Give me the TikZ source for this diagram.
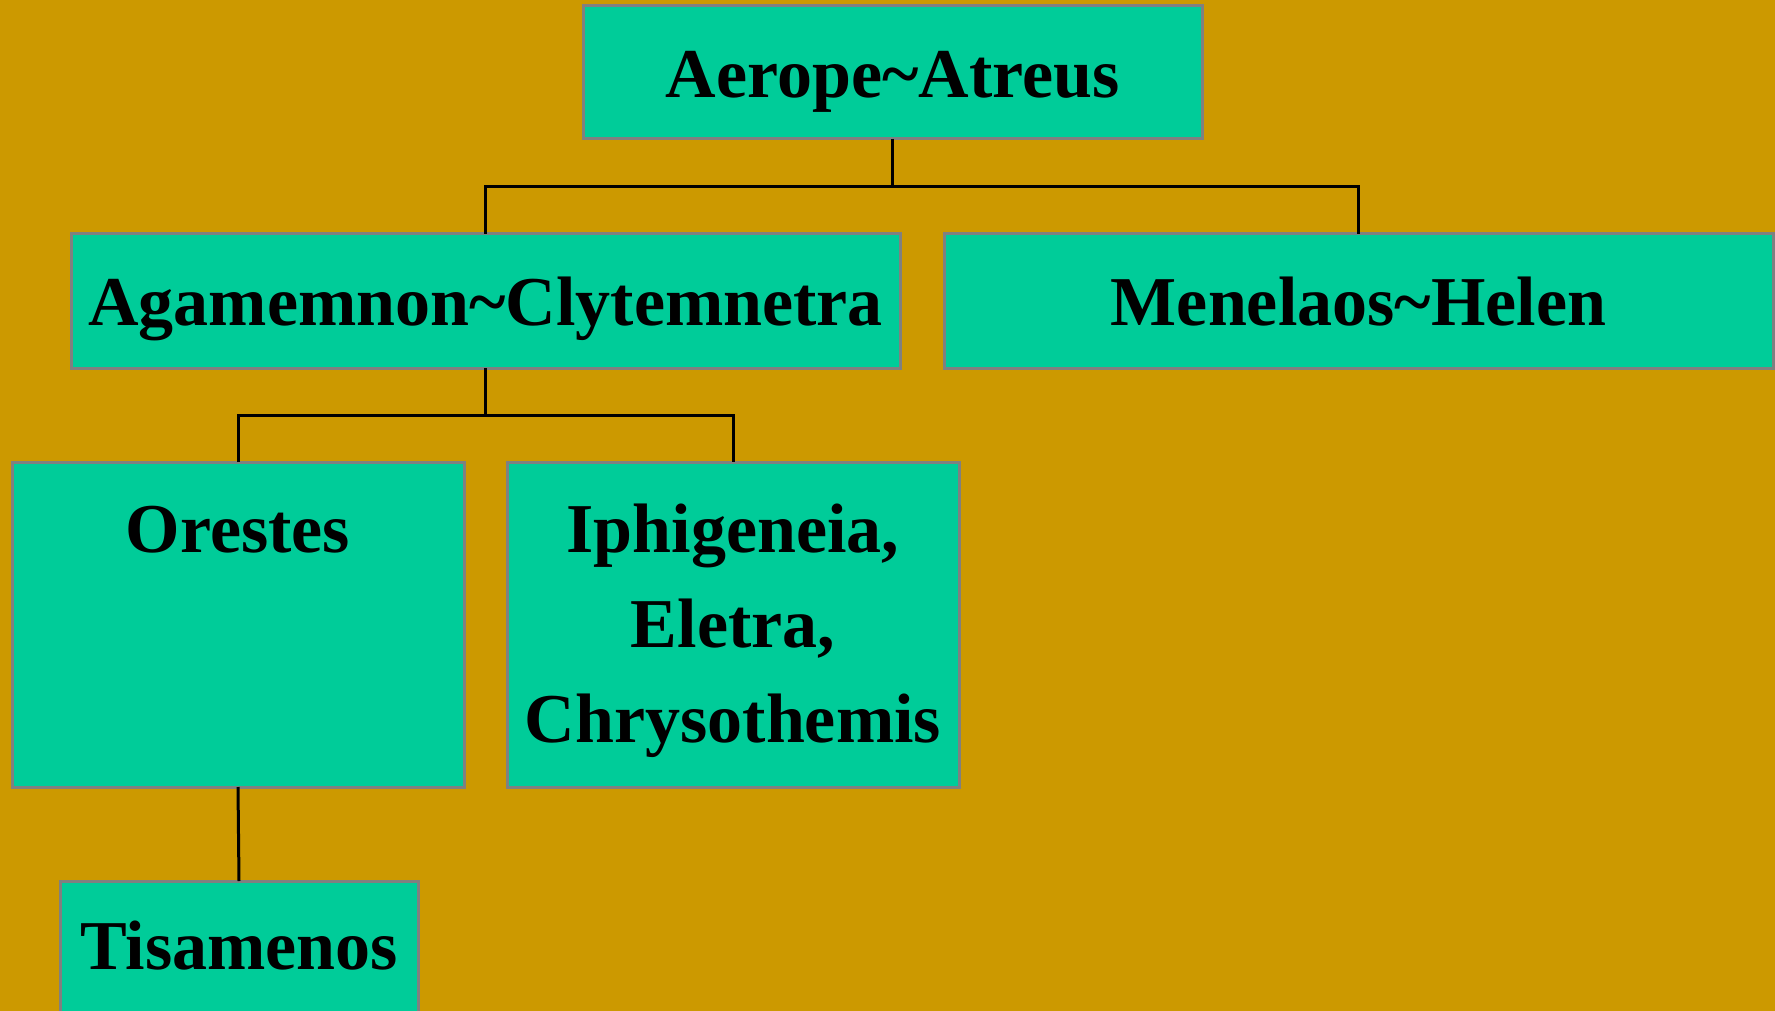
\documentclass[tikz,border=0pt]{standalone}
\usepackage{fontspec}
\setmainfont{Liberation Serif}
\definecolor{bgcol}{HTML}{CC9900}
\definecolor{boxgreen}{HTML}{00CC99}
\definecolor{boxgray}{HTML}{808080}
\begin{document}
\begin{tikzpicture}[x=1pt,y=1pt,
  box/.style={draw=boxgray, line width=3pt, fill=boxgreen, inner sep=0pt, outer sep=0pt},
  lbl/.style={anchor=base, inner sep=0pt, font=\fontsize{70}{95}\selectfont\bfseries},
  conn/.style={draw=black, line width=3pt}]
\fill[bgcol] (0,0) rectangle (1775,-1011);
\useasboundingbox (0,0) rectangle (1775,-1011);
\clip (0,0) rectangle (1775,-1011);
% boxes
\node[box, minimum width=619pt, minimum height=133pt] (top) at (892.5,-72.5) {};
\node[box, minimum width=829pt, minimum height=134pt] (agam) at (485.5,-301) {};
\node[box, minimum width=829pt, minimum height=134pt] (mene) at (1358.5,-301) {};
\node[box, minimum width=452pt, minimum height=325pt] (ores) at (238,-624.5) {};
\node[box, minimum width=452pt, minimum height=325pt] (iphi) at (733,-624.5) {};
\node[box, minimum width=358pt, minimum height=160pt] (tisa) at (239,-961) {};
% texts
\node[lbl] (ttop) at (892.5,-98) {Aerope\textasciitilde Atreus};
\node[lbl] (tagam) at (485.5,-325) {Agamemnon\textasciitilde Clytemnetra};
\node[lbl] (tmene) at (1358.5,-325) {Menelaos\textasciitilde Helen};
\node[lbl] (tores) at (238,-552) {Orestes};
\node[lbl] (tiphi1) at (733,-552) {Iphigeneia,};
\node[lbl] (tiphi2) at (733,-647) {Eletra,};
\node[lbl] (tiphi3) at (733,-742) {Chrysothemis};
\node[lbl] (ttisa) at (239,-969) {Tisamenos};
% connectors
\coordinate (j1) at (892.5,-187);
\coordinate (j2) at (485.5,-415);
\draw[conn] (top.south) -- (j1);
\draw[conn] (agam.north) |- (j1) -| (mene.north);
\draw[conn] (agam.south) -- (j2);
\draw[conn] (ores.north) |- (j2) -| (iphi.north);
\draw[conn] (ores.south) -- (tisa.north);
\end{tikzpicture}
\end{document}
